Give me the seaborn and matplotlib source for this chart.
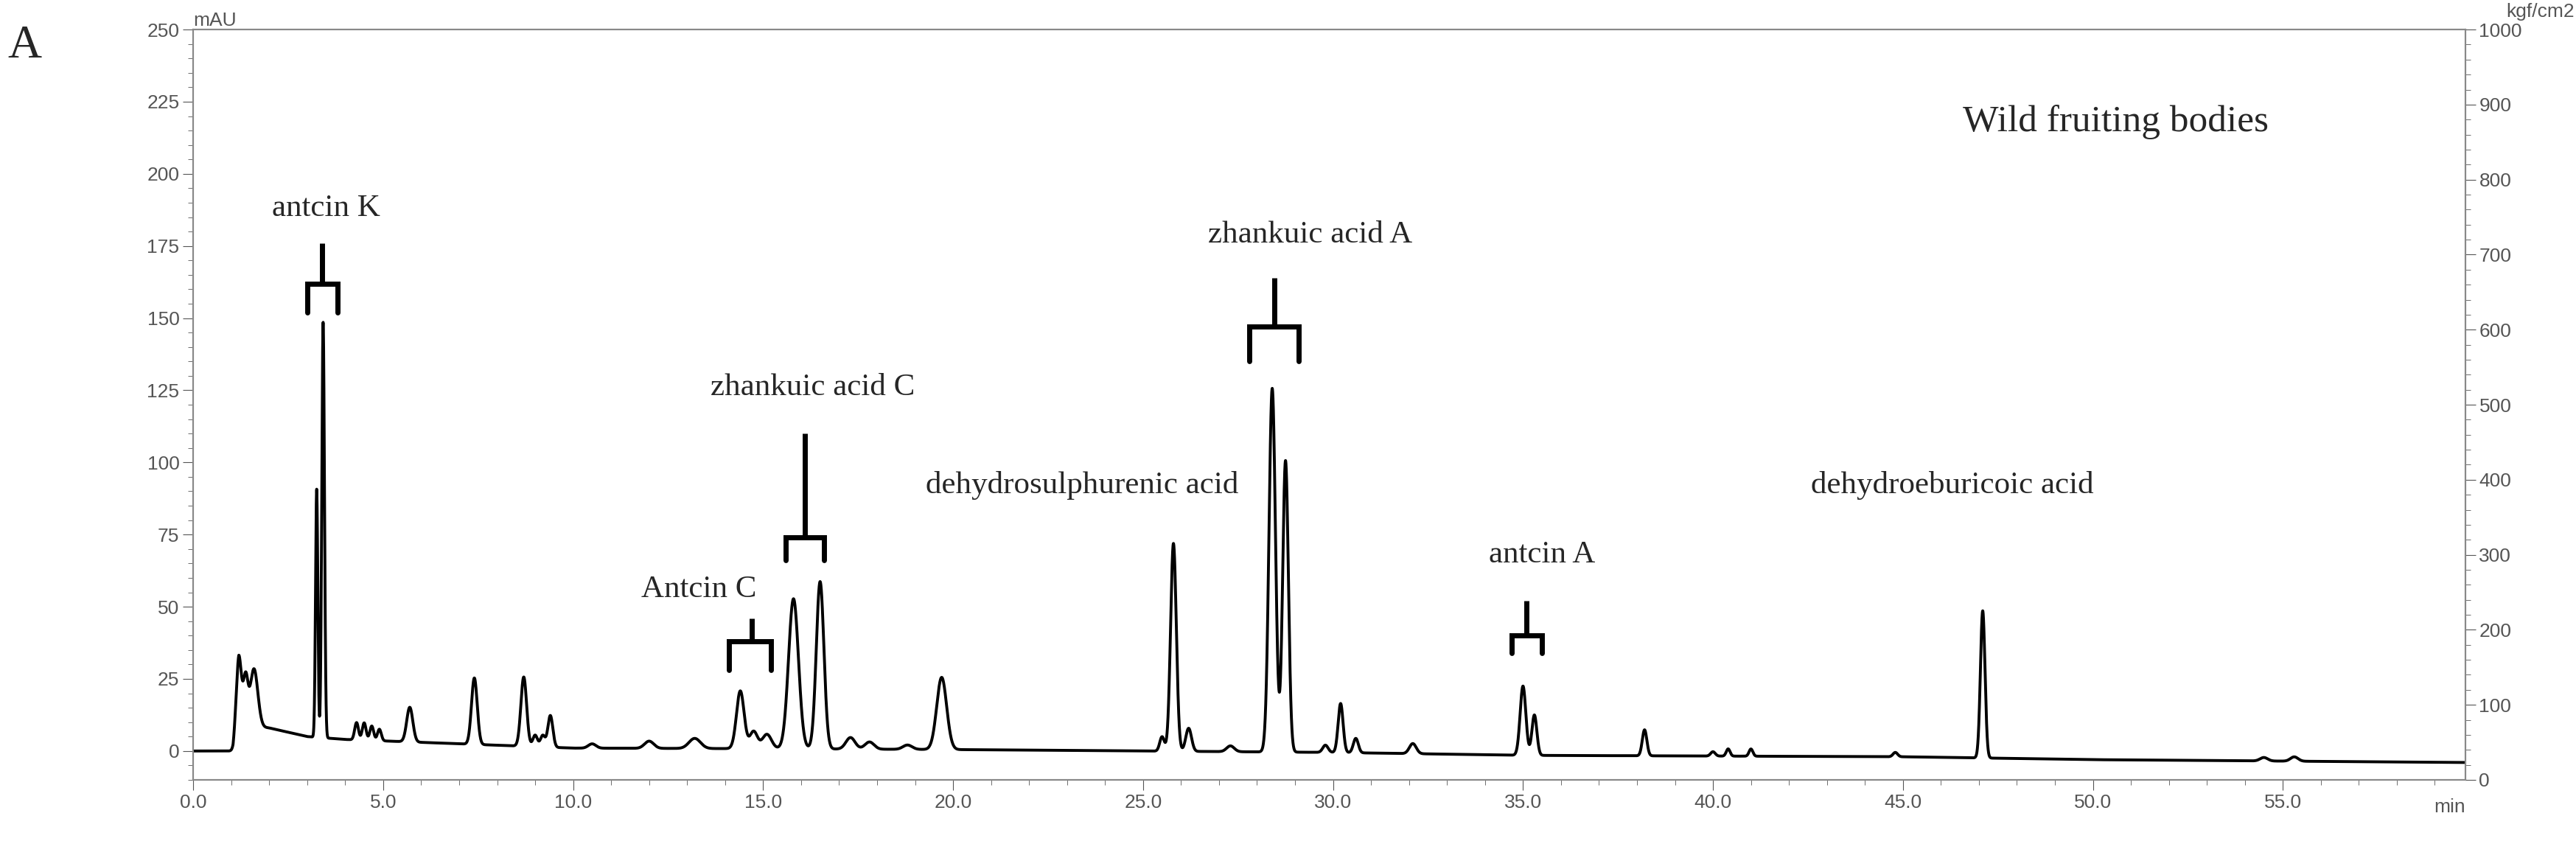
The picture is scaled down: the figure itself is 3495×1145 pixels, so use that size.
import numpy as np
import matplotlib
matplotlib.use("Agg")
import matplotlib.pyplot as plt
import seaborn as sns
from matplotlib.ticker import MultipleLocator

# peak table: retention time (min), height (mAU), width (min)
peak_rt = [1.2, 1.38, 1.6, 3.25, 3.42, 4.3, 4.5, 4.7, 4.9, 5.7, 7.4, 8.7, 9.0, 9.2, 9.4,
           10.5, 12.0, 13.2, 14.4, 14.75, 15.1, 15.8, 16.5, 17.3, 17.8, 18.8, 19.7,
           25.5, 25.8, 26.2, 27.3, 28.4, 28.75, 29.8, 30.2, 30.6, 32.1, 35.0, 35.3,
           38.2, 40.0, 40.4, 41.0, 44.8, 47.1, 54.5, 55.3]
peak_h = [24, 16, 20, 86, 144, 6, 6, 5, 4, 12, 23, 24, 4, 4, 11,
          1.5, 2.5, 3.5, 20, 6, 5, 52, 58, 4, 2.5, 1.5, 25,
          5, 72, 8, 2, 126, 101, 2.5, 17, 5, 3.5, 24, 14,
          9, 1.5, 2.5, 2.5, 1.5, 51, 1.2, 1.5]
peak_w = [0.07, 0.06, 0.1, 0.03, 0.035, 0.05, 0.05, 0.05, 0.05, 0.08, 0.075, 0.075, 0.06, 0.06, 0.065,
          0.1, 0.12, 0.15, 0.1, 0.1, 0.12, 0.13, 0.1, 0.12, 0.12, 0.12, 0.13,
          0.06, 0.075, 0.075, 0.1, 0.085, 0.075, 0.07, 0.065, 0.065, 0.09, 0.075, 0.065,
          0.06, 0.06, 0.05, 0.05, 0.06, 0.06, 0.1, 0.1]
# baseline drift points
base_t = [0, 1.05, 1.2, 2.0, 3.0, 4.0, 5.0, 6.0, 8.0, 10.0, 15.0, 20.0, 25.0, 30.0, 35.0, 45.0, 50.0, 60.0]
base_y = [0, 0, 9, 8, 5, 4, 3.5, 3, 2, 1, 0.8, 0.5, 0, -0.5, -1.5, -2, -3, -4]

labels = ["antcin K", "Antcin C", "zhankuic acid C", "dehydrosulphurenic acid",
          "zhankuic acid A", "antcin A", "dehydroeburicoic acid"]
label_x = [3.5, 13.3, 16.3, 23.4, 29.4, 35.5, 46.3]
label_y = [183, 51, 121, 87, 174, 63, 87]
# brackets: stem x, stem top, bracket y, left, right, leg bottom
br_x = [3.4, 14.7, 16.1, 28.45, 35.1]
br_top = [176, 46, 110, 164, 52]
br_y = [162, 38, 74, 147, 40]
br_l = [3.0, 14.1, 15.6, 27.8, 34.7]
br_r = [3.8, 15.2, 16.6, 29.1, 35.5]
br_bot = [152, 28, 66, 135, 34]

t = np.linspace(0, 59.8, 30000)
signal = np.interp(t, base_t, base_y)
for rt, h, w in zip(peak_rt, peak_h, peak_w):
    signal = signal + h * np.exp(-0.5 * ((t - rt) / w) ** 2)

sns.set_style("white")
fig = plt.figure(figsize=(34.95, 11.45), dpi=100)
ax = fig.add_axes([0.075, 0.076, 0.882, 0.889])
sns.lineplot(x=t, y=signal, ax=ax, color="black", linewidth=2.8)
ax.set_xlim(0, 59.8)
ax.set_ylim(-10, 250)

grey = "#555555"
tick_fs = 19
for s in ax.spines.values():
    s.set_color("#888888")
    s.set_linewidth(1.5)
ax.xaxis.set_major_locator(MultipleLocator(5))
ax.xaxis.set_minor_locator(MultipleLocator(1))
ax.yaxis.set_major_locator(MultipleLocator(25))
ax.yaxis.set_minor_locator(MultipleLocator(5))
ax.tick_params(which="both", direction="out", colors=grey, labelsize=tick_fs, left=True, bottom=True)
ax.tick_params(which="major", length=10)
ax.tick_params(which="minor", length=5)
for lab in ax.get_yticklabels():
    lab.set_family("Liberation Sans")
ax.set_xticks(np.arange(0, 56, 5))
ax.set_xticklabels([f"{v:.1f}" for v in np.arange(0, 56, 5)], family="Liberation Sans")
ax.text(1.0, -0.025, "min", transform=ax.transAxes, ha="right", va="top", fontsize=tick_fs,
        color=grey, family="Liberation Sans")
ax.text(0.0, 1.0, "mAU", transform=ax.transAxes, ha="left", va="bottom", fontsize=tick_fs,
        color=grey, family="Liberation Sans")

ax2 = ax.twinx()
ax2.set_ylim(0, 1000)
ax2.yaxis.set_major_locator(MultipleLocator(100))
ax2.yaxis.set_minor_locator(MultipleLocator(20))
ax2.tick_params(which="both", direction="out", colors=grey, labelsize=tick_fs, right=True)
ax2.tick_params(which="major", length=10)
ax2.tick_params(which="minor", length=5)
for lab in ax2.get_yticklabels():
    lab.set_family("Liberation Sans")
for s in ax2.spines.values():
    s.set_color("#888888")
    s.set_linewidth(1.5)
ax2.text(1.018, 1.012, "kgf/cm2", transform=ax.transAxes, ha="left", va="bottom", fontsize=tick_fs,
         color=grey, family="Liberation Sans")

serif = "Liberation Serif"
for name, x, y in zip(labels, label_x, label_y):
    ax.text(x, y, name, ha="center", va="bottom", fontsize=31, family=serif)
for x, top, y, l, r, bot in zip(br_x, br_top, br_y, br_l, br_r, br_bot):
    ax.plot([x, x], [top, y], color="black", lw=5, solid_capstyle="butt")
    ax.plot([l, l, r, r], [bot, y, y, bot], color="black", lw=5, solid_joinstyle="miter")
ax.text(50.6, 218, "Wild fruiting bodies", ha="center", va="center", fontsize=37, family=serif)
fig.text(0.003, 0.97, "A", ha="left", va="top", fontsize=46, family=serif)

fig.savefig("out.png", dpi=100)
